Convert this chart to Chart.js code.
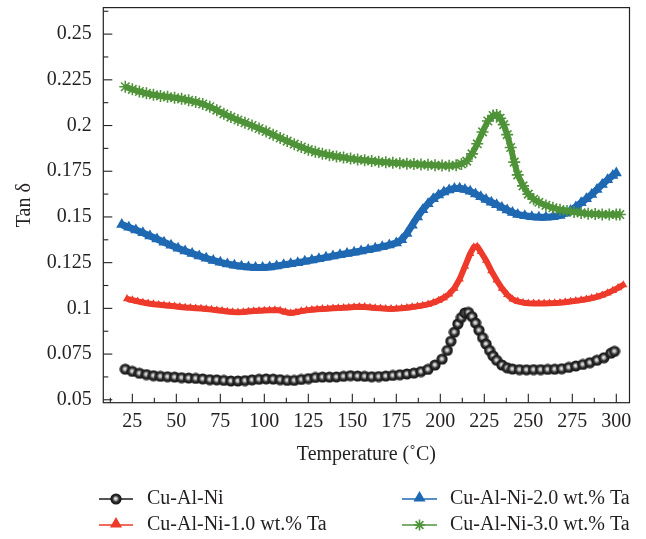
<!DOCTYPE html>
<html>
<head>
<meta charset="utf-8">
<script src="https://cdn.jsdelivr.net/npm/chart.js@4/dist/chart.umd.min.js"></script>
<style>
  html, body { margin: 0; padding: 0; background: #ffffff; }
  #wrap { width: 646px; height: 539px; }
</style>
</head>
<body>
<div id="wrap"><canvas id="c" width="646" height="539"></canvas></div>
<script>
// ---------------- data ----------------
const seriesNames = ['Cu-Al-Ni', 'Cu-Al-Ni-1.0 wt.% Ta', 'Cu-Al-Ni-2.0 wt.% Ta', 'Cu-Al-Ni-3.0 wt.% Ta'];

const blackT = [21,25,29,33,37,41,45,49,53,57,61,65,69,73,77,81,85,89,93,97,101,105,109,113,117,121,125,129,133,137,141,145,149,153,157,161,165,169,173,177,181,185,189,193,197,201,204,206,208,210,212,214,216,218,220,222,224,226,228,230,232,235,238,241,245,249,253,257,261,265,269,273,277,281,285,289,293,297,299];
const blackV = [0.0667,0.0655,0.0645,0.0638,0.0632,0.0628,0.0626,0.0624,0.0621,0.0619,0.0617,0.0614,0.0610,0.0609,0.0606,0.0603,0.0603,0.0605,0.0609,0.0612,0.0614,0.0613,0.0610,0.0606,0.0606,0.0611,0.0616,0.0622,0.0624,0.0624,0.0625,0.0628,0.0632,0.0630,0.0628,0.0626,0.0627,0.0630,0.0633,0.0637,0.0641,0.0646,0.0654,0.0666,0.0690,0.0722,0.0770,0.0820,0.0870,0.0915,0.0950,0.0975,0.0978,0.0955,0.0920,0.0880,0.0840,0.0805,0.0770,0.0740,0.0716,0.0690,0.0675,0.0668,0.0665,0.0664,0.0665,0.0665,0.0666,0.0667,0.0670,0.0677,0.0685,0.0693,0.0703,0.0716,0.0730,0.0755,0.0765];

const redT = [22,25,28,31,34,37,40,43,46,49,52,55,58,61,64,67,70,73,76,79,82,85,88,91,94,97,100,103,106,109,112,115,118,121,124,127,130,133,136,139,142,145,148,151,154,157,160,163,166,169,172,175,178,181,184,187,190,193,196,199,202,205,208,211,214,217,219,221,223,226,229,232,235,238,241,244,247,250,253,256,259,262,265,268,271,274,277,280,283,286,289,292,295,298,301,304];
const redV = [0.1052,0.1045,0.1038,0.1032,0.1027,0.1023,0.1020,0.1017,0.1014,0.1011,0.1008,0.1005,0.1003,0.1001,0.0999,0.0996,0.0993,0.0990,0.0987,0.0983,0.0980,0.0978,0.0980,0.0983,0.0985,0.0987,0.0988,0.0989,0.0991,0.0988,0.0980,0.0974,0.0979,0.0985,0.0989,0.0992,0.0995,0.0997,0.0998,0.1000,0.1002,0.1003,0.1005,0.1007,0.1009,0.1008,0.1005,0.1002,0.1000,0.0998,0.0997,0.0998,0.1000,0.1003,0.1007,0.1011,0.1016,0.1022,0.1031,0.1043,0.1058,0.1078,0.1110,0.1160,0.1230,0.1300,0.1335,0.1338,0.1310,0.1262,0.1205,0.1155,0.1110,0.1075,0.1050,0.1038,0.1031,0.1028,0.1027,0.1027,0.1027,0.1028,0.1029,0.1031,0.1034,0.1037,0.1041,0.1045,0.1050,0.1056,0.1063,0.1072,0.1084,0.1097,0.1112,0.1128];

const blueT = [19,23,27,31,35,39,43,47,51,55,59,63,67,71,75,79,83,87,91,95,99,103,107,111,115,119,123,127,131,135,139,143,147,151,155,159,163,167,171,175,178,181,184,187,190,193,196,199,202,205,208,211,214,217,220,223,226,229,232,235,238,241,244,248,252,256,260,264,268,271,274,277,280,283,286,289,292,295,298,300];
const blueV = [0.1458,0.1443,0.1428,0.1413,0.1396,0.1379,0.1362,0.1345,0.1329,0.1314,0.1300,0.1287,0.1274,0.1262,0.1252,0.1243,0.1236,0.1230,0.1226,0.1224,0.1223,0.1226,0.1232,0.1238,0.1244,0.1250,0.1257,0.1264,0.1271,0.1279,0.1286,0.1293,0.1300,0.1307,0.1314,0.1321,0.1329,0.1337,0.1346,0.1358,0.1375,0.1410,0.1455,0.1500,0.1540,0.1572,0.1600,0.1620,0.1636,0.1648,0.1656,0.1657,0.1650,0.1640,0.1626,0.1610,0.1595,0.1580,0.1567,0.1552,0.1538,0.1524,0.1514,0.1506,0.1501,0.1499,0.1499,0.1501,0.1508,0.1520,0.1535,0.1555,0.1577,0.1600,0.1623,0.1650,0.1678,0.1703,0.1727,0.1740];

const greenT = [21,25,29,33,37,41,45,49,53,57,61,65,69,73,77,81,85,89,93,97,101,105,109,113,117,121,125,129,133,137,141,145,149,153,157,161,165,169,173,177,181,185,189,193,197,201,205,209,212,215,218,221,224,227,230,232,234,236,238,240,242,244,247,250,253,256,260,264,268,272,276,280,284,288,292,296,300,302];
const greenV = [0.2212,0.2198,0.2186,0.2176,0.2168,0.2162,0.2157,0.2152,0.2146,0.2138,0.2129,0.2118,0.2103,0.2084,0.2064,0.2046,0.2030,0.2015,0.2000,0.1984,0.1967,0.1950,0.1932,0.1915,0.1898,0.1882,0.1868,0.1856,0.1846,0.1838,0.1831,0.1825,0.1819,0.1814,0.1810,0.1806,0.1802,0.1799,0.1796,0.1794,0.1791,0.1789,0.1787,0.1785,0.1783,0.1781,0.1780,0.1783,0.1790,0.1805,0.1845,0.1900,0.1965,0.2025,0.2055,0.2058,0.2040,0.2005,0.1950,0.1880,0.1800,0.1730,0.1670,0.1625,0.1597,0.1580,0.1563,0.1550,0.1540,0.1533,0.1527,0.1522,0.1518,0.1516,0.1514,0.1513,0.1513,0.1513];

const xTickValues = [25,50,75,100,125,150,175,200,225,250,275,300];
const xTickLabels = ['25','50','75','100','125','150','175','200','225','250','275','300'];
const yTickValues = [0.05,0.075,0.1,0.125,0.15,0.175,0.2,0.225,0.25];
const yTickLabels = ['0.05','0.075','0.1','0.125','0.15','0.175','0.2','0.225','0.25'];
const xMinorValues = [12.5,37.5,62.5,87.5,112.5,137.5,162.5,187.5,212.5,237.5,262.5,287.5];
const yMinorValues = [0.0625,0.0875,0.1125,0.1375,0.1625,0.1875,0.2125,0.2375,0.2625];

// ---------------- styles ----------------
const FONT = "'Liberation Serif', 'DejaVu Serif', serif";
const C_BLACK = '#1c1c1c', C_RED = '#ee3a2b', C_BLUE = '#1f69b3', C_GREEN = '#4f9338';

const sphere = (() => {
  const c = document.createElement('canvas');
  c.width = 12; c.height = 12;
  const g = c.getContext('2d');
  const grad = g.createRadialGradient(5.6, 5.6, 0.2, 6, 6, 5.6);
  grad.addColorStop(0, '#f2f2f2');
  grad.addColorStop(0.28, '#a8a8a8');
  grad.addColorStop(0.55, '#303030');
  grad.addColorStop(1, '#101010');
  g.fillStyle = grad;
  g.beginPath(); g.arc(6, 6, 5.6, 0, Math.PI * 2); g.fill();
  return c;
})();

const pts = (T, V) => T.map((t, i) => ({ x: t, y: V[i] }));

const datasets = [
  { label: seriesNames[3], data: pts(greenT, greenV), order: 0, borderColor: C_GREEN, borderWidth: 6,
    pointStyle: 'star', pointRadius: 6, pointBorderWidth: 1.6, pointBorderColor: C_GREEN, pointBackgroundColor: C_GREEN },
  { label: seriesNames[2], data: pts(blueT, blueV), order: 1, borderColor: C_BLUE, borderWidth: 7,
    pointStyle: 'triangle', pointRadius: 6.5, pointBorderWidth: 0, pointBackgroundColor: C_BLUE, pointBorderColor: C_BLUE },
  { label: seriesNames[1], data: pts(redT, redV), order: 2, borderColor: C_RED, borderWidth: 6,
    pointStyle: 'triangle', pointRadius: 4.8, pointBorderWidth: 0, pointBackgroundColor: C_RED, pointBorderColor: C_RED },
  { label: seriesNames[0], data: pts(blackT, blackV), order: 3, borderColor: C_BLACK, borderWidth: 1.5,
    pointStyle: sphere, pointRadius: 6 }
];
datasets.forEach(d => { d.tension = 0; d.fill = false; d.pointHoverRadius = d.pointRadius; d.borderJoinStyle = 'round'; });

// ---------------- plugins ----------------
const frameTicks = {
  id: 'frameTicks',
  afterDatasetsDraw(chart) {
    const { ctx, chartArea: a, scales: { x, y } } = chart;
    ctx.save();
    ctx.strokeStyle = '#222';
    ctx.lineWidth = 1.2;
    ctx.strokeRect(a.left, a.top, a.right - a.left, a.bottom - a.top);
    ctx.lineWidth = 1.1;
    const seg = (x1, y1, x2, y2) => { ctx.beginPath(); ctx.moveTo(x1, y1); ctx.lineTo(x2, y2); ctx.stroke(); };
    xTickValues.forEach(v => { const p = x.getPixelForValue(v); seg(p, a.bottom, p, a.bottom - 9); });
    xMinorValues.forEach(v => { const p = x.getPixelForValue(v); seg(p, a.bottom, p, a.bottom - 5); });
    yTickValues.forEach(v => { const p = y.getPixelForValue(v); seg(a.left, p, a.left + 9, p); });
    yMinorValues.forEach(v => { const p = y.getPixelForValue(v); if (p > a.top + 1) seg(a.left, p, a.left + 5, p); });
    ctx.restore();
  }
};

function drawTri(ctx, cx, cy, r) {
  ctx.beginPath();
  ctx.moveTo(cx, cy - r);
  ctx.lineTo(cx + r * Math.sin(Math.PI / 3), cy + r / 2);
  ctx.lineTo(cx - r * Math.sin(Math.PI / 3), cy + r / 2);
  ctx.closePath(); ctx.fill();
}
function drawStar(ctx, cx, cy, r) {
  ctx.beginPath();
  for (let k = 0; k < 4; k++) {
    const ang = k * Math.PI / 4;
    ctx.moveTo(cx - r * Math.cos(ang), cy - r * Math.sin(ang));
    ctx.lineTo(cx + r * Math.cos(ang), cy + r * Math.sin(ang));
  }
  ctx.stroke();
}

const customLegend = {
  id: 'customLegend',
  afterDraw(chart) {
    const ctx = chart.ctx;
    const items = [
      { name: seriesNames[0], color: C_BLACK, x0: 99, x1: 133, tx: 147, y: 499, kind: 'sphere' },
      { name: seriesNames[1], color: C_RED, x0: 99, x1: 133, tx: 147, y: 525, kind: 'tri' },
      { name: seriesNames[2], color: C_BLUE, x0: 402, x1: 437, tx: 450, y: 499, kind: 'tri' },
      { name: seriesNames[3], color: C_GREEN, x0: 402, x1: 437, tx: 450, y: 525, kind: 'star' }
    ];
    ctx.save();
    items.forEach(it => {
      ctx.strokeStyle = it.color; ctx.fillStyle = it.color; ctx.lineWidth = 1.6;
      ctx.beginPath(); ctx.moveTo(it.x0, it.y); ctx.lineTo(it.x1, it.y); ctx.stroke();
      const cx = (it.x0 + it.x1) / 2;
      if (it.kind === 'sphere') ctx.drawImage(sphere, cx - 6, it.y - 6);
      else if (it.kind === 'tri') drawTri(ctx, cx, it.y - 1, 7);
      else { ctx.lineWidth = 1.6; drawStar(ctx, cx, it.y, 5.5); }
      ctx.fillStyle = '#231f20';
      ctx.font = '20px ' + FONT;
      ctx.textBaseline = 'middle';
      ctx.textAlign = 'left';
      ctx.fillText(it.name, it.tx, it.y);
    });
    ctx.restore();
  }
};

// ---------------- chart ----------------
new Chart(document.getElementById('c'), {
  type: 'line',
  data: { datasets },
  plugins: [frameTicks, customLegend],
  options: {
    responsive: false,
    animation: false,
    devicePixelRatio: 1,
    layout: { padding: { left: 0, right: 16.5, top: 5, bottom: 72.6 } },
    plugins: { legend: { display: false }, tooltip: { enabled: false } },
    scales: {
      x: {
        type: 'linear', min: 8.5, max: 307.5,
        grid: { display: false, drawTicks: false }, border: { display: false },
        afterBuildTicks: s => { s.ticks = xTickValues.map(v => ({ value: v })); },
        afterFit: s => { s.height = 63.7; s.paddingLeft = 0; s.paddingRight = 0; },
        ticks: { autoSkip: false, maxRotation: 0, padding: 7, color: '#231f20',
                 font: { family: FONT, size: 20 }, callback: (v, i) => xTickLabels[i] },
        title: { display: true, text: 'Temperature (\u02DAC)', color: '#231f20',
                 font: { family: FONT, size: 20 }, padding: { top: 0, bottom: 0 } }
      },
      y: {
        type: 'linear', min: 0.0484, max: 0.2645,
        grid: { display: false, drawTicks: false }, border: { display: false },
        afterBuildTicks: s => { s.ticks = yTickValues.map(v => ({ value: v })); },
        afterFit: s => { s.width = 103.3; s.paddingTop = 0; s.paddingBottom = 0; },
        ticks: { autoSkip: false, padding: 11.5, color: '#231f20',
                 font: { family: FONT, size: 20 }, callback: (v, i) => yTickLabels[i] },
        title: { display: true, text: 'Tan \u03B4', color: '#231f20',
                 font: { family: FONT, size: 20 }, padding: { top: 13, bottom: 0 } }
      }
    }
  }
});
</script>
</body>
</html>
